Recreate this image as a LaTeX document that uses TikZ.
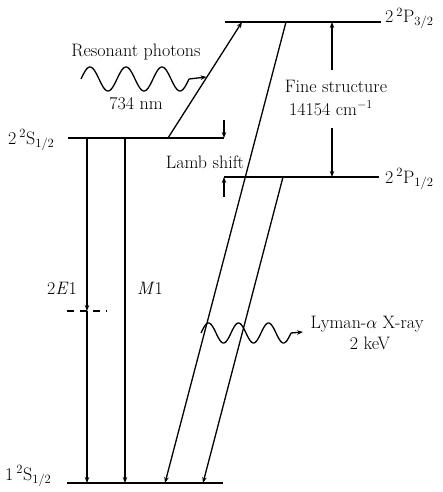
\documentclass[tikz,border=0pt]{standalone}
\usetikzlibrary{arrows.meta}
\newcommand{\sps}[1]{\textsuperscript{#1}}
\newcommand{\sbs}[1]{\textsubscript{#1}}
\begin{document}
\begin{tikzpicture}[x=1pt,y=-1pt,
  lvl/.style={line width=1.6pt},
  tr/.style={line width=1.3pt,-{Stealth[length=6pt,width=4.5pt]}},
  wave/.style={line width=1.3pt},
  lab/.style={font=\fontsize{18}{21}\selectfont, inner sep=0pt},
]
\useasboundingbox (0,0) rectangle (442,492);

% level end points
\coordinate (P3a) at (225,22);  \coordinate (P3b) at (381,22);
\coordinate (P1a) at (224,177); \coordinate (P1b) at (379,177);
\coordinate (S2a) at (68,138);  \coordinate (S2b) at (224,138);
\coordinate (S1a) at (67,483);  \coordinate (S1b) at (223,483);

\draw[lvl] (P3a) -- (P3b);
\draw[lvl] (P1a) -- (P1b);
\draw[lvl] (S2a) -- (S2b);
\draw[lvl] (S1a) -- (S1b);

% level labels
\node[lab, anchor=base west] (lP3) at (385,22.5) {2\,\sps{2}P\sbs{3/2}};
\node[lab, anchor=base west] (lP1) at (385,183) {2\,\sps{2}P\sbs{1/2}};
\node[lab, anchor=base west] (lS2) at (8,144) {2\,\sps{2}S\sbs{1/2}};
\node[lab, anchor=base west] (lS1) at (5,480) {1\,\sps{2}S\sbs{1/2}};

% 2E1 and M1 decays
\coordinate (eA) at (87,138); \coordinate (eV) at (87,311); \coordinate (eB) at (87,483);
\draw[tr] (eA) -- (eV);
\draw[tr] (eV) -- (eB);
\coordinate (vL) at (67,311); \coordinate (vR) at (107,311);
\draw[line width=1.3pt, dash pattern=on 7pt off 6pt] (vL) -- (vR);
\coordinate (mA) at (125,138); \coordinate (mB) at (125,483);
\draw[tr] (mA) -- (mB);
\node[lab, anchor=base] (l2E) at (62,294) {2\textit{E}1};
\node[lab, anchor=base] (lM) at (150,294) {\textit{M}1};

% excitation
\coordinate (xA) at (168,138); \coordinate (xB) at (242,22);
\draw[tr] (xA) -- (xB);

% Lyman-alpha decays
\coordinate (d1A) at (286,22);  \coordinate (d1B) at (165,483);
\coordinate (d2A) at (283,177); \coordinate (d2B) at (203,483);
\draw[tr] (d1A) -- (d1B);
\draw[tr] (d2A) -- (d2B);

% Lamb shift
\coordinate (lsT) at (224,120); \coordinate (lsB) at (224,197);
\draw[tr] (lsT) -- (S2b);
\draw[tr] (lsB) -- (P1a);
\node[lab, anchor=base] (lLamb) at (205,168) {Lamb shift};

% Fine structure
\coordinate (fsT) at (332,22); \coordinate (fsU) at (332,70);
\coordinate (fsL) at (332,128); \coordinate (fsB) at (332,177);
\draw[tr] (fsU) -- (fsT);
\draw[tr] (fsL) -- (fsB);
\node[lab, anchor=base] (lFine) at (336,93) {Fine structure};
\node[lab, anchor=base] (lFine2) at (331,115) {14154 cm$^{-1}$};

% resonant photons wave
\draw[wave] plot[domain=0:108, samples=120, smooth] ({81+\x}, {79 - 12*sin(10*\x)}) coordinate (rwE);
\coordinate (rwT) at (206.5,77);
\draw[tr] (rwE) -- (rwT);
\node[lab, anchor=base] (lRes) at (136,57) {Resonant photons};
\node[lab, anchor=base] (lNm) at (136,110) {734 nm};

% Lyman X-ray wave
\draw[wave] plot[domain=0:90, samples=120, smooth] ({201+\x}, {333 - 10*sin(12*\x)}) coordinate (lwE);
\coordinate (lwT) at (303,332);
\draw[tr] (lwE) -- (lwT);
\node[lab, anchor=base] (lLy) at (367,328) {Lyman-$\alpha$ X-ray};
\node[lab, anchor=base] (lKeV) at (370,349) {2 keV};
\end{tikzpicture}
\end{document}
